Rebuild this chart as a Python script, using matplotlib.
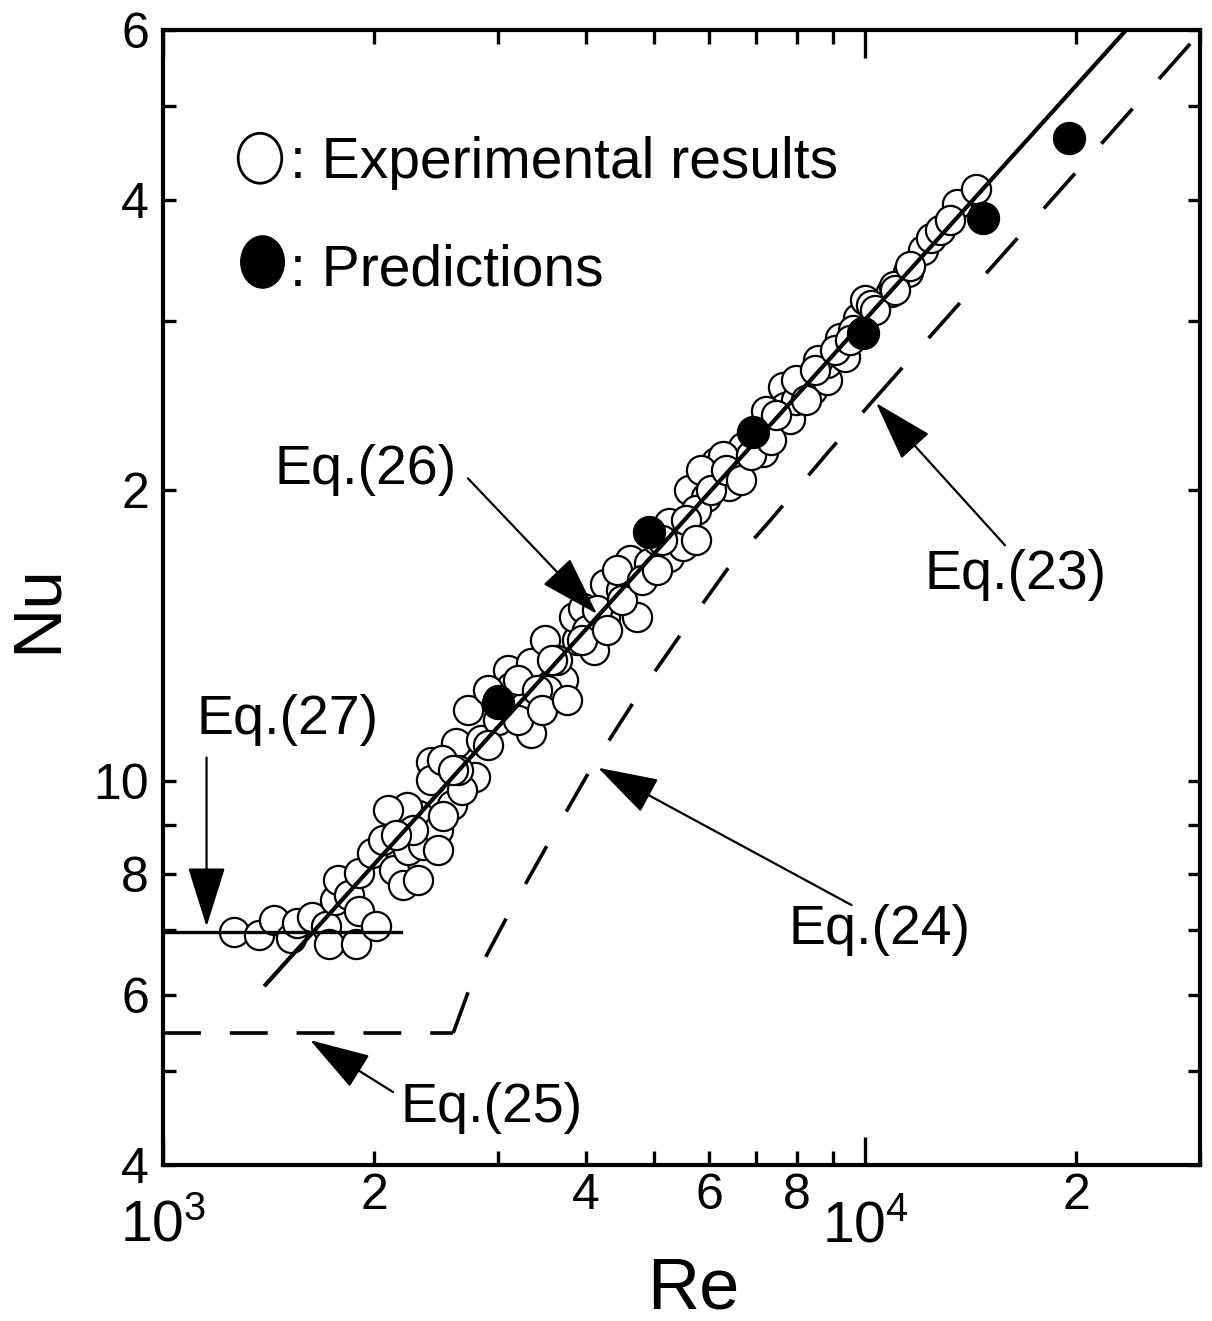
import matplotlib
matplotlib.use("Agg")
import matplotlib.pyplot as plt
from matplotlib.patches import Ellipse
from matplotlib.ticker import NullLocator

plt.rcParams['font.family'] = ['Liberation Sans', 'DejaVu Sans']
plt.rcParams['mathtext.fontset'] = 'custom'
plt.rcParams['mathtext.rm'] = 'Liberation Sans'
plt.rcParams['mathtext.it'] = 'Liberation Sans'

# experimental results (open circles)
exp_re = [1264, 1371, 1440, 1522, 1552, 1629, 1706, 1723, 1757, 1774,
          1839, 1881, 1899, 1899, 1982, 2010, 2060, 2130, 2200, 2236,
          2309, 2347, 2229, 2410, 2410, 2465, 2580, 2614, 2718, 2834,
          2780, 2670, 3096, 3127, 3270, 3340, 3340, 3504, 3716, 3888,
          4110, 3850, 3966, 4260, 4490, 4260, 4728, 4620, 4930, 5265,
          5265, 5510, 5620, 5938, 6400, 6134, 6700, 7150, 6270, 7630,
          7700, 7830, 8390, 8840, 8840, 9370, 8560, 9220, 9770, 10900,
          11500, 12100, 12400, 13500, 14400, 3643, 4018, 3527, 2901, 2997,
          3199, 2500, 2631, 5047, 5747, 5840, 7222, 7962, 10000, 9620,
          11000, 4431, 10200,
          2095, 2272, 2150, 2505, 2588, 2901, 2997, 3199, 3413, 3470,
          3585, 3764, 3950, 4151, 4288, 4503, 4805, 5047, 5130, 5564,
          5747, 6035, 6339, 6657, 6877, 7340, 7459, 7962, 8226, 8500,
          9072, 9520, 10330, 11020, 11580, 12770, 13200, 2309, 2465]
exp_nu = [6.97, 6.92, 7.18, 6.87, 7.13, 7.23, 7.08, 6.78, 7.53, 7.90,
          7.62, 6.78, 7.33, 8.03, 8.42, 7.08, 8.69, 8.09, 7.80, 8.48,
          9.22, 8.58, 9.39, 10.47, 10.03, 8.90, 9.45, 10.96, 11.85, 11.03,
          10.10, 9.79, 13.04, 12.52, 11.93, 11.22, 13.26, 14.01, 12.73, 14.01,
          13.68, 14.79, 15.12, 15.99, 15.78, 14.79, 14.79, 16.96, 16.84, 17.08,
          18.52, 17.50, 20.03, 19.70, 20.20, 21.40, 22.20, 21.90, 21.70, 25.60,
          24.40, 23.70, 25.40, 26.00, 27.10, 27.50, 27.30, 28.80, 30.20, 32.10,
          33.70, 35.50, 36.50, 39.60, 41.10, 13.36, 14.35, 12.43, 12.43, 11.57,
          12.73, 10.52, 10.27, 17.79, 19.10, 21.00, 24.20, 24.80, 31.50, 29.30,
          32.60, 16.56, 31.10,
          9.33, 8.90, 8.80, 9.20, 10.27, 10.90, 12.14, 11.57, 12.43, 11.85,
          13.36, 12.14, 14.01, 15.05, 14.35, 15.41, 16.17, 16.56, 17.79, 18.65,
          17.79, 20.03, 21.01, 20.52, 21.78, 22.57, 23.95, 26.03, 24.82, 26.66,
          27.96, 28.63, 30.75, 32.25, 34.20, 37.19, 38.09, 7.90, 8.48]

# predictions (filled circles)
pred_re = [3000, 4930, 6920, 9940, 14700, 19500]
pred_nu = [12.04, 18.1, 23.0, 29.1, 38.3, 46.4]

# correlations
eq26_re = [1400, 23550]
eq26_nu = [6.15, 60.0]
eq27_re = [1000, 2185]
eq27_nu = [6.97, 6.97]
eq25_re = [1000, 2590]
eq25_nu = [5.48, 5.48]
eq24_re = [2590, 2745, 3100, 3675, 4060, 4680, 5420, 6360, 7340, 8870, 10200]
eq24_nu = [5.48, 6.15, 7.26, 9.05, 10.27, 12.07, 14.07, 16.56, 18.65, 21.93, 24.65]
eq23_re = [10200, 30000]
eq23_nu = [24.65, 59.6]

x_major = [1e3, 1e4]
x_major_labels = ['$10^3$', '$10^4$']
x_minor = [2000, 3000, 4000, 5000, 6000, 7000, 8000, 9000, 20000, 30000]
x_minor_labels = ['2', '', '4', '', '6', '', '8', '', '2', '']
y_ticks = [4, 5, 6, 7, 8, 9, 10, 20, 30, 40, 50, 60]
y_labels = ['4', '', '6', '', '8', '', '10', '2', '', '4', '', '6']

fig = plt.figure(figsize=(12.12, 13.21), dpi=100)
ax = fig.add_axes([163 / 1212, 156 / 1321, 1037 / 1212, 1135 / 1321])
ax.set_xscale('log')
ax.set_yscale('log')
ax.set_xlim(1000, 30000)
ax.set_ylim(4, 60)

ax.plot(exp_re, exp_nu, 'o', ms=21, mfc='white', mec='black', mew=1.6, zorder=2)
ax.plot(pred_re, pred_nu, 'o', ms=23, mfc='black', mec='black', zorder=3)

ax.plot(eq26_re, eq26_nu, '-', color='black', lw=3.0, zorder=4)
ax.plot(eq27_re, eq27_nu, '-', color='black', lw=2.4, zorder=4)
ax.plot(eq25_re, eq25_nu, color='black', lw=2.6, dashes=(10.5, 8), zorder=4)
ax.plot(eq24_re, eq24_nu, color='black', lw=2.6, dashes=(12, 11), zorder=4)
ax.plot(eq23_re, eq23_nu, color='black', lw=2.6, dashes=(13, 11), zorder=4)

# axes and ticks
for s in ax.spines.values():
    s.set_linewidth(3)
ax.set_xticks(x_major, x_major_labels)
ax.set_xticks(x_minor, x_minor_labels, minor=True)
ax.set_yticks(y_ticks, y_labels)
ax.yaxis.set_minor_locator(NullLocator())
ax.tick_params(which='both', direction='in', top=True, right=True, width=2.4)
ax.tick_params(axis='x', which='major', length=20, pad=25, labelsize=41)
ax.tick_params(axis='x', which='minor', length=10, pad=6, labelsize=36)
ax.tick_params(axis='y', which='major', length=9, pad=10, labelsize=36)

ax.set_xlabel('Re', fontsize=52)
ax.set_ylabel('Nu', fontsize=50)
ax.xaxis.set_label_coords(0.511, -0.110)
ax.xaxis.label.set_va('center')
ax.yaxis.set_label_coords(-0.1205, 0.4907)
ax.yaxis.label.set_va('center')

# legend drawn by hand
ax.add_patch(Ellipse((0.0935, 0.887), 0.042, 0.044, transform=ax.transAxes,
                     facecolor='white', edgecolor='black', lw=2.0))
ax.text(0.122, 0.8696, ': Experimental results', transform=ax.transAxes,
        fontsize=41, va='baseline', ha='left')
ax.add_patch(Ellipse((0.096, 0.7956), 0.042, 0.046, transform=ax.transAxes,
                     facecolor='black', edgecolor='black', lw=1.0))
ax.text(0.122, 0.7753, ': Predictions', transform=ax.transAxes,
        fontsize=41, va='baseline', ha='left')

# equation labels with arrows
labels = [
    ('Eq.(27)', (0.120, 0.392), (0.042, 0.359), (0.042, 0.210)),
    ('Eq.(26)', (0.195, 0.612), (0.294, 0.605), (0.4185, 0.4855)),
    ('Eq.(23)', (0.822, 0.520), (0.812, 0.546), (0.6876, 0.6714)),
    ('Eq.(24)', (0.691, 0.207), (0.664, 0.229), (0.4195, 0.350)),
    ('Eq.(25)', (0.317, 0.050), (0.2218, 0.0643), (0.1418, 0.110)),
]
for txt, pos, tail, tip in labels:
    ax.text(pos[0], pos[1], txt, transform=ax.transAxes, fontsize=40,
            ha='center', va='center')
    ax.annotate('', xy=tip, xytext=tail, xycoords='axes fraction',
                textcoords='axes fraction',
                arrowprops=dict(arrowstyle='-|>,head_length=2.4,head_width=0.75',
                                mutation_scale=16, color='black', lw=1.6,
                                shrinkA=0, shrinkB=0))

fig.savefig('out.png', dpi=100)
